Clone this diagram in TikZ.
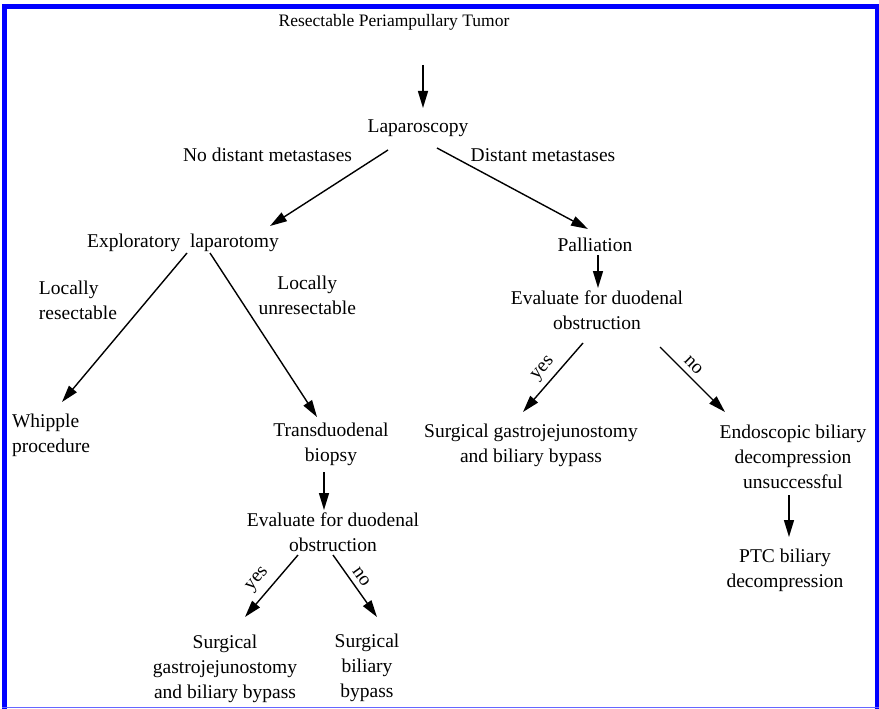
\documentclass[tikz,border=0pt]{standalone}
\usepackage{fontspec}
\setmainfont{Liberation Serif}
\usetikzlibrary{arrows.meta}

\begin{document}
\begin{tikzpicture}[x=1pt,y=-1pt,
    txt/.style={font=\fontsize{19.5}{25}\selectfont, inner sep=0pt, align=center},
    arr/.style={-{Triangle[length=17pt,width=10pt]}, line width=1.4pt}]
  \useasboundingbox (0,0) rectangle (879,709);
  % frame
  \fill[blue] (2,4) rectangle (879,9);
  \fill[blue] (2,4) rectangle (7,709);
  \fill[blue] (875,4) rectangle (879,709);
  \draw[blue!60, line width=1pt] (2,707.5) -- (879,707.5);

  \node[txt, font=\fontsize{17.5}{21}\selectfont] (tumor) at (394,22) {Resectable Periampullary Tumor};
  \node[txt] (lap) at (418,128) {Laparoscopy};
  \node[txt] (explo) at (183,243) {Exploratory\ \ laparotomy};
  \node[txt] (pall) at (595,245) {Palliation};
  \node[txt, align=left] (whip) at (51,435) {Whipple\\procedure};
  \node[txt] (trans) at (331,444) {Transduodenal\\biopsy};
  \node[txt] (evalA) at (333,532) {Evaluate for duodenal\\obstruction};
  \node[txt] (gjA) at (225,669) {Surgical\\gastrojejunostomy\\and biliary bypass};
  \node[txt] (bypass) at (367,668) {Surgical\\biliary\\bypass};
  \node[txt] (evalB) at (597,310) {Evaluate for duodenal\\obstruction};
  \node[txt] (gjB) at (531,445) {Surgical gastrojejunostomy\\and biliary bypass};
  \node[txt] (endo) at (793,457) {Endoscopic biliary\\decompression\\unsuccessful};
  \node[txt] (ptc) at (785,570) {PTC biliary\\decompression};

  \draw[arr] ([shift={(29,43)}]tumor.center) -- ([shift={(5,-20)}]lap.center);
  \draw[arr] ([shift={(-30,22)}]lap.center) -- ([shift={(87,-17)}]explo.center)
       node[txt, pos=0.07, left=27pt] (nodist) {No distant metastases};
  \draw[arr] ([shift={(19,20)}]lap.center) -- ([shift={(-7,-16)}]pall.center)
       node[txt, pos=0.086, right=20pt] (dist) {Distant metastases};
  \draw[arr] ([shift={(4,10)}]explo.center) -- ([shift={(11,-33)}]whip.center)
       node[txt, align=left, pos=0.315, left=30pt] (locres) {Locally\\resectable};
  \draw[arr] ([shift={(27,10)}]explo.center) -- ([shift={(-14,-27)}]trans.center)
       node[txt, pos=0.26, right=20pt] (locunres) {Locally\\unresectable};
  \draw[arr] ([shift={(-7,28)}]trans.center) -- ([shift={(-9,-22)}]evalA.center);
  \draw[arr] ([shift={(-35,23)}]evalA.center) -- ([shift={(20,-52)}]gjA.center)
       node[txt, pos=0.55, sloped, above, inner sep=7pt] (yesA) {yes};
  \draw[arr] ([shift={(0,23)}]evalA.center) -- ([shift={(10,-51)}]bypass.center)
       node[txt, pos=0.45, sloped, above, inner sep=5pt] (noA) {no};
  \draw[arr] ([shift={(3,10)}]pall.center) -- ([shift={(1,-22)}]evalB.center);
  \draw[arr] ([shift={(-14,33)}]evalB.center) -- ([shift={(-8,-33)}]gjB.center)
       node[txt, midway, sloped, above, inner sep=5pt] (yesB) {yes};
  \draw[arr] ([shift={(63,37)}]evalB.center) -- ([shift={(-68,-45)}]endo.center)
       node[txt, pos=0.4, sloped, above, inner sep=5pt] (noB) {no};
  \draw[arr] ([shift={(-4,38)}]endo.center) -- ([shift={(4,-33)}]ptc.center);
\end{tikzpicture}
\end{document}
